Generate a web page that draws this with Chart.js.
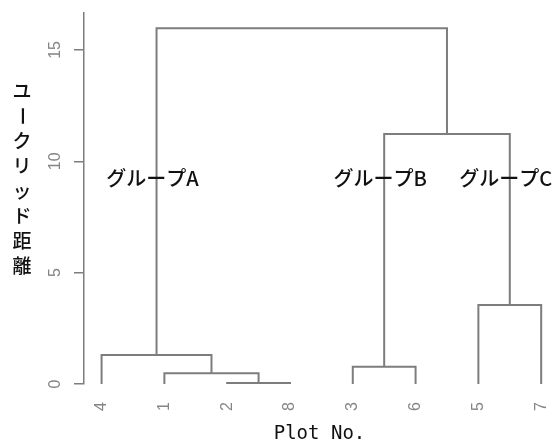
<!DOCTYPE html>
<html>
<head>
<meta charset="utf-8">
<script src="https://cdn.jsdelivr.net/npm/chart.js@4.4.1/dist/chart.umd.min.js"></script>
<style>
  html, body { margin: 0; padding: 0; background: #ffffff; }
  canvas { display: block; }
</style>
</head>
<body>
<canvas id="dendro" width="555" height="446"></canvas>
<script>
// Leaf order along the horizontal axis (plot numbers)
const leafLabels = ['4', '1', '2', '8', '3', '6', '5', '7'];

// Merge table, hclust style: negative = plot number (leaf), positive = earlier merge step (1-based)
const mergeLeft   = [-2, -1, -3, -4, -5, 3, 4];
const mergeRight  = [-8,  1, -6,  2, -7, 5, 6];
const mergeHeight = [0.04, 0.48, 0.78, 1.30, 3.55, 11.23, 15.97];

// Vertical axis ticks
const yTicks = [0, 5, 10, 15];

// Cluster annotations: label text and the merge step each sits on
const groupLabels = ['グループA', 'グループB', 'グループC'];
const groupNodes  = [4, 3, 5];
const groupLabelHeight = 9.25;

const yTitle = 'ユークリッド距離';
const xTitle = 'Plot No.';

const LINE_COLOR = '#7d7d7d';
const TICK_COLOR = '#858585';

// ---- dendrogram layout: leaf positions and merge node coordinates ----
function leafX(plotNo) {
  return leafLabels.indexOf(String(plotNo)) + 1;
}
const nodes = [];
function nodeOf(ref) {
  if (ref < 0) return { x: leafX(-ref), y: 0 };
  return nodes[ref - 1];
}
const segments = [];
for (let i = 0; i < mergeHeight.length; i++) {
  const l = nodeOf(mergeLeft[i]);
  const r = nodeOf(mergeRight[i]);
  const h = mergeHeight[i];
  nodes.push({ x: (l.x + r.x) / 2, y: h });
  segments.push([
    { x: l.x, y: l.y },
    { x: l.x, y: h },
    { x: r.x, y: h },
    { x: r.x, y: r.y }
  ]);
}

const datasets = segments.map(pts => ({
  data: pts,
  showLine: true,
  borderColor: LINE_COLOR,
  borderWidth: 2,
  pointRadius: 0,
  tension: 0,
  fill: false
}));

// ---- text drawn on top: rotated y tick labels, group labels, stacked y title ----
const annotations = {
  id: 'annotations',
  afterDraw(chart) {
    const { ctx, scales } = chart;
    const xs = scales.x, ys = scales.y;
    ctx.save();

    // y tick labels, reading bottom to top
    ctx.fillStyle = TICK_COLOR;
    ctx.font = '16px "Liberation Sans", Arial, sans-serif';
    ctx.textAlign = 'center';
    ctx.textBaseline = 'middle';
    yTicks.forEach(v => {
      const py = ys.getPixelForValue(v);
      ctx.save();
      ctx.translate(ys.left + 56, py);
      ctx.rotate(-Math.PI / 2);
      ctx.fillText(String(v), 0, 0);
      ctx.restore();
    });

    // group labels centred on their cluster stems
    ctx.fillStyle = '#111111';
    ctx.font = '500 20px "Noto Sans CJK JP", sans-serif';
    ctx.textAlign = 'center';
    ctx.textBaseline = 'middle';
    groupLabels.forEach((txt, i) => {
      const n = nodes[groupNodes[i] - 1];
      const px = xs.getPixelForValue(n.x) - 4;
      const py = ys.getPixelForValue(groupLabelHeight);
      ctx.fillText(txt, px, py);
    });

    // vertical axis title, one upright character per line
    ctx.font = '500 19px "Noto Sans CJK JP", sans-serif';
    const chars = Array.from(yTitle);
    const tx = 22, ty0 = 91, pitch = 25;
    chars.forEach((ch, i) => {
      const cy = ty0 + i * pitch;
      ctx.save();
      ctx.translate(tx, cy);
      if (ch === 'ー') ctx.rotate(Math.PI / 2);
      ctx.fillText(ch, 0, 0);
      ctx.restore();
    });

    ctx.restore();
  }
};

new Chart(document.getElementById('dendro'), {
  type: 'scatter',
  data: { datasets },
  options: {
    responsive: false,
    devicePixelRatio: 1,
    animation: false,
    layout: { padding: { top: 13, right: 0, bottom: 0, left: 0 } },
    plugins: { legend: { display: false }, tooltip: { enabled: false } },
    scales: {
      x: {
        type: 'linear',
        min: 0.72,
        max: 8.22,
        afterBuildTicks: s => { s.ticks = leafLabels.map((_, i) => ({ value: i + 1 })); },
        afterFit: s => { s.height = 62; s.paddingLeft = 0; s.paddingRight = 0; },
        grid: { display: false },
        border: { display: false },
        ticks: {
          autoSkip: false,
          minRotation: 90,
          maxRotation: 90,
          padding: 10,
          color: TICK_COLOR,
          font: { family: '"Liberation Sans", Arial, sans-serif', size: 16 },
          callback: v => leafLabels[Math.round(v) - 1]
        },
        title: {
          display: true,
          text: xTitle,
          color: '#111111',
          font: { family: '"DejaVu Sans Mono", monospace', size: 19 },
          padding: { top: 0, bottom: 1 }
        }
      },
      y: {
        type: 'linear',
        min: 0,
        max: 16.66,
        afterBuildTicks: s => { s.ticks = yTicks.map(v => ({ value: v })); },
        afterFit: s => { s.width = 84; s.paddingTop = 0; s.paddingBottom = 0; },
        grid: {
          drawOnChartArea: false,
          drawTicks: true,
          tickLength: 10,
          color: LINE_COLOR,
          lineWidth: 1.5
        },
        border: { display: true, color: LINE_COLOR, width: 1.5 },
        ticks: { display: false }
      }
    }
  },
  plugins: [annotations]
});
</script>
</body>
</html>
